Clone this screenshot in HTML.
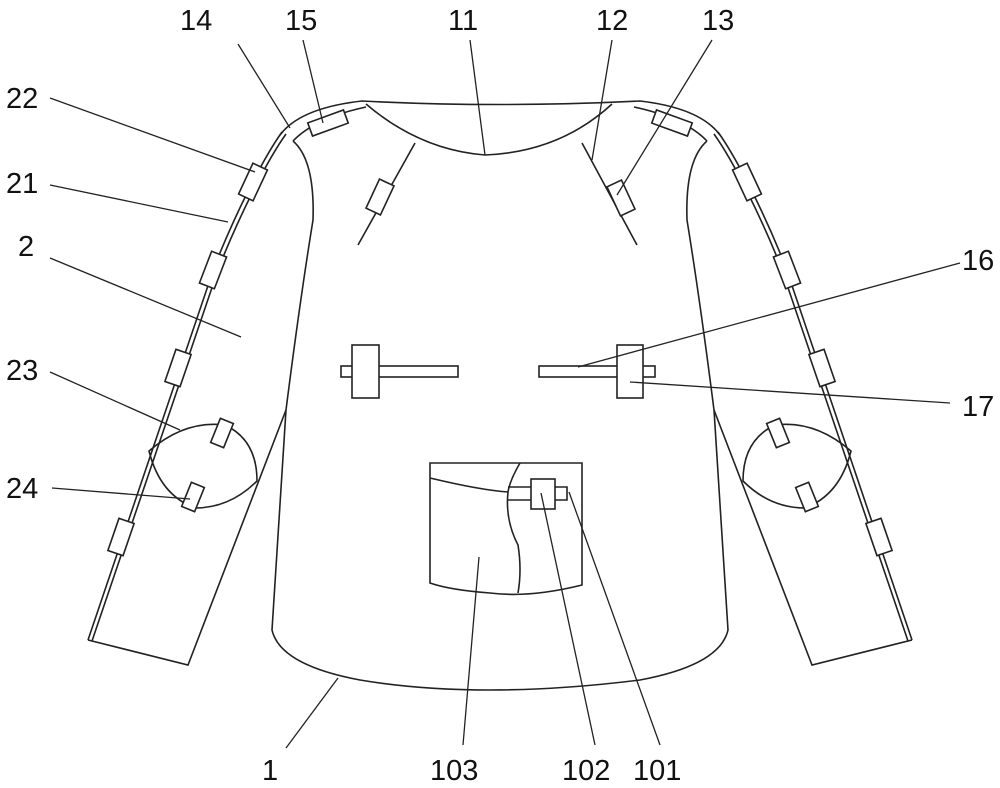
<!DOCTYPE html>
<html><head><meta charset="utf-8"><style>
html,body{margin:0;padding:0;background:#fff;}
svg{display:block}
text{font-family:"Liberation Sans",sans-serif;font-size:29px;fill:#111}
</style></head><body>
<svg width="1000" height="788" viewBox="0 0 1000 788" xmlns="http://www.w3.org/2000/svg">
<g fill="none" stroke="#222" stroke-width="1.6">
<path d="M280,135 Q300,108 362,101 Q500,108 640,101 Q700,108 720,135"/>
<path d="M293,141 Q315,118 366,107 M634,107 Q685,118 707,141"/>
<path d="M366,104 Q420,150 485,155 Q560,152 612,104"/>
<path d="M293,141 Q315,160 313,220 Q300,300 286,410 L272,630 Q280,665 360,680 Q480,700 640,680 Q720,665 728,630 L714,410 Q700,300 687,220 Q685,160 707,141"/>
<path d="M282,132 C262,160 235,215 215,265 L88,640 M286,134 C266,162 239,217 219,267 L92,641"/>
<path d="M88,640 L188,665 L286,410"/>
<path d="M718,132 C738,160 765,215 785,265 L912,640 M714,134 C734,162 761,217 781,267 L908,641"/>
<path d="M912,640 L812,665 L714,410"/>
<path d="M149,451 Q185,420 225,425 Q257,440 257,481 Q230,508 195,508 Q160,495 149,451Z"/>
<path d="M851,451 Q815,420 775,425 Q743,440 743,481 Q770,508 805,508 Q840,495 851,451Z"/>
<path d="M430,463 L582,463 L582,585 Q530,598 490,593 Q450,590 430,583Z"/>
<path d="M430,478 Q480,490 508,492 M520,463 Q510,480 508,492 Q505,520 518,545 Q522,570 518,593"/>
<path d="M508,487 L567,487 L567,500 L508,500"/>
<path d="M415,143 L358,245 M582,143 L637,245"/>
<rect x="341" y="366" width="117" height="11"/>
<rect x="539" y="366" width="116" height="11"/>
</g>
<g fill="#fff" stroke="#222" stroke-width="1.6">
<rect x="352" y="345" width="27" height="53"/>
<rect x="617" y="345" width="26" height="53"/>
<rect x="531" y="479" width="24" height="30"/>
<rect x="-8" y="-17" width="16" height="34" transform="translate(253,182) rotate(25)"/>
<rect x="-8" y="-17" width="16" height="34" transform="translate(213,270) rotate(21)"/>
<rect x="-8" y="-17" width="16" height="34" transform="translate(178,368) rotate(19)"/>
<rect x="-8" y="-17" width="16" height="34" transform="translate(121,537) rotate(19)"/>
<rect x="-8" y="-17" width="16" height="34" transform="translate(747,182) rotate(-25)"/>
<rect x="-8" y="-17" width="16" height="34" transform="translate(787,270) rotate(-21)"/>
<rect x="-8" y="-17" width="16" height="34" transform="translate(822,368) rotate(-19)"/>
<rect x="-8" y="-17" width="16" height="34" transform="translate(879,537) rotate(-19)"/>
<rect x="-19" y="-7" width="38" height="14" transform="translate(328,123) rotate(-20)"/>
<rect x="-19" y="-7" width="38" height="14" transform="translate(672,123) rotate(20)"/>
<rect x="-8" y="-16" width="16" height="32" transform="translate(380,197) rotate(25)"/>
<rect x="-8" y="-16" width="16" height="32" transform="translate(621,198) rotate(-25)"/>
<rect x="-7" y="-13" width="14" height="26" transform="translate(222,433) rotate(22)"/>
<rect x="-7" y="-13" width="14" height="26" transform="translate(193,497) rotate(22)"/>
<rect x="-7" y="-13" width="14" height="26" transform="translate(778,433) rotate(-22)"/>
<rect x="-7" y="-13" width="14" height="26" transform="translate(807,497) rotate(-22)"/>
</g>
<g stroke="#222" stroke-width="1.3">
<line x1="238" y1="44" x2="290" y2="128"/>
<line x1="303" y1="40" x2="323" y2="123"/>
<line x1="470" y1="40" x2="485" y2="155"/>
<line x1="612" y1="40" x2="592" y2="160"/>
<line x1="712" y1="40" x2="617" y2="195"/>
<line x1="50" y1="98" x2="255" y2="172"/>
<line x1="50" y1="185" x2="228" y2="222"/>
<line x1="50" y1="258" x2="241" y2="337"/>
<line x1="50" y1="372" x2="180" y2="430"/>
<line x1="52" y1="488" x2="190" y2="499"/>
<line x1="960" y1="263" x2="578" y2="367"/>
<line x1="950" y1="403" x2="630" y2="382"/>
<line x1="286" y1="748" x2="338" y2="678"/>
<line x1="463" y1="745" x2="479" y2="557"/>
<line x1="595" y1="745" x2="541" y2="493"/>
<line x1="660" y1="745" x2="569" y2="492"/>
</g>
<text x="180" y="30">14</text>
<text x="285" y="30">15</text>
<text x="448" y="30">11</text>
<text x="596" y="30">12</text>
<text x="702" y="30">13</text>
<text x="6" y="108">22</text>
<text x="6" y="193">21</text>
<text x="18" y="256">2</text>
<text x="6" y="380">23</text>
<text x="6" y="498">24</text>
<text x="962" y="270">16</text>
<text x="962" y="416">17</text>
<text x="262" y="780">1</text>
<text x="430" y="780">103</text>
<text x="562" y="780">102</text>
<text x="633" y="780">101</text>
</svg>
</body></html>
